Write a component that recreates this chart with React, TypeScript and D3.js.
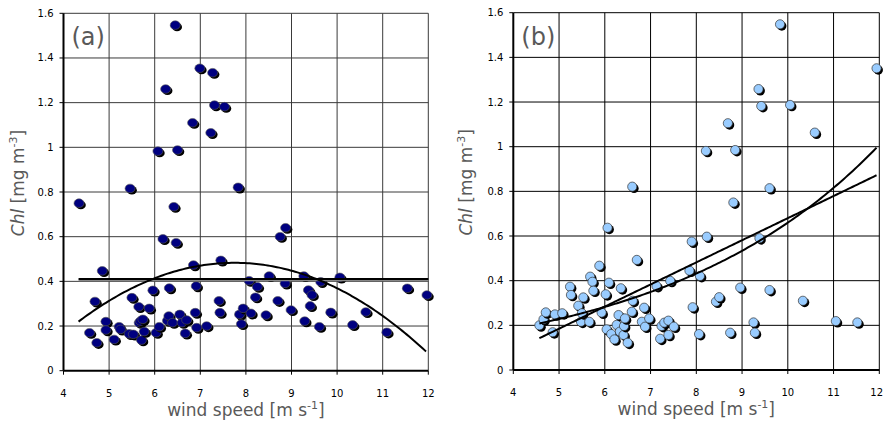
import React from 'react';
import * as d3 from 'd3';

const xTickValues = [4, 5, 6, 7, 8, 9, 10, 11, 12];
const xTickLabels = ['4', '5', '6', '7', '8', '9', '10', '11', '12'];
const yTickValues = [0, 0.2, 0.4, 0.6, 0.8, 1, 1.2, 1.4, 1.6];
const yTickLabels = ['0', '0.2', '0.4', '0.6', '0.8', '1', '1.2', '1.4', '1.6'];

const windA = [4.34, 4.57, 4.69, 4.73, 4.85, 4.93, 4.93, 5.11, 5.22, 5.25, 5.44, 5.46, 5.5, 5.53, 5.65, 5.66, 5.69, 5.71, 5.74, 5.77, 5.88, 5.96, 6.03, 6.07, 6.1, 6.18, 6.24, 6.28, 6.31, 6.32, 6.39, 6.42, 6.45, 6.47, 6.5, 6.55, 6.6, 6.67, 6.7, 6.83, 6.85, 6.89, 6.91, 6.92, 6.99, 7.14, 7.23, 7.27, 7.31, 7.41, 7.43, 7.45, 7.53, 7.83, 7.86, 7.9, 7.94, 8.07, 8.11, 8.21, 8.25, 8.44, 8.51, 8.7, 8.75, 8.86, 8.87, 8.99, 9.27, 9.29, 9.37, 9.41, 9.45, 9.61, 9.64, 9.86, 10.06, 10.34, 10.63, 11.09, 11.54, 11.97];
const chlA = [0.75, 0.17, 0.31, 0.125, 0.447, 0.22, 0.182, 0.14, 0.197, 0.185, 0.165, 0.816, 0.327, 0.163, 0.286, 0.215, 0.222, 0.137, 0.23, 0.175, 0.279, 0.36, 0.17, 0.983, 0.197, 0.59, 1.261, 0.224, 0.245, 0.37, 0.215, 0.734, 1.547, 0.573, 0.988, 0.252, 0.215, 0.167, 0.227, 1.11, 0.473, 0.26, 0.379, 0.193, 1.354, 0.2, 1.065, 1.334, 1.189, 0.313, 0.26, 0.494, 1.182, 0.821, 0.252, 0.209, 0.279, 0.403, 0.257, 0.329, 0.376, 0.249, 0.424, 0.313, 0.6, 0.391, 0.64, 0.272, 0.424, 0.222, 0.361, 0.29, 0.339, 0.197, 0.398, 0.261, 0.418, 0.205, 0.263, 0.172, 0.369, 0.339];

const windB = [4.57, 4.66, 4.71, 4.86, 4.91, 5.07, 5.24, 5.26, 5.42, 5.48, 5.5, 5.53, 5.66, 5.68, 5.73, 5.75, 5.88, 5.93, 6.02, 6.04, 6.06, 6.09, 6.14, 6.21, 6.26, 6.3, 6.33, 6.35, 6.41, 6.42, 6.44, 6.5, 6.59, 6.6, 6.61, 6.7, 6.81, 6.86, 6.88, 6.97, 7.13, 7.21, 7.24, 7.3, 7.39, 7.39, 7.43, 7.51, 7.85, 7.9, 7.92, 8.06, 8.08, 8.21, 8.23, 8.43, 8.5, 8.69, 8.74, 8.81, 8.85, 8.96, 9.25, 9.28, 9.36, 9.38, 9.42, 9.6, 9.6, 9.83, 10.05, 10.33, 10.59, 11.05, 11.52, 11.94];
const chlB = [0.2, 0.227, 0.258, 0.169, 0.249, 0.254, 0.373, 0.336, 0.288, 0.216, 0.254, 0.325, 0.216, 0.418, 0.395, 0.355, 0.467, 0.257, 0.339, 0.182, 0.637, 0.391, 0.161, 0.137, 0.202, 0.246, 0.172, 0.366, 0.157, 0.197, 0.231, 0.122, 0.261, 0.821, 0.31, 0.493, 0.216, 0.279, 0.194, 0.231, 0.376, 0.14, 0.197, 0.212, 0.157, 0.221, 0.399, 0.194, 0.445, 0.575, 0.281, 0.161, 0.421, 0.981, 0.597, 0.306, 0.326, 1.105, 0.167, 0.75, 0.985, 0.369, 0.213, 0.167, 1.258, 0.59, 1.182, 0.358, 0.814, 1.548, 1.187, 0.31, 1.063, 0.219, 0.213, 1.351];

// Trend lines (fitted coefficients)
const meanA = 0.411;
const meanAExtent = [4.33, 12];
const quadA = { a: -0.0225, vx: 7.75, vy: 0.483 };
const quadAExtent = [4.33, 11.95];
const linB = { slope: 0.099, intercept: -0.31 };
const expB = { a: 0.0792, b: 0.212 };
const trendBExtent = [4.57, 11.94];

type PanelProps = {
  left: number; right: number; top: number; bottom: number;
  wind: number[]; chl: number[]; variant: 'a' | 'b'; tag: string; yLabelX: number; maxX: number;
};

function Panel({ left, right, top, bottom, wind, chl, variant, tag, yLabelX, maxX }: PanelProps) {
  const x = d3.scaleLinear().domain([4, 12]).range([left, right]);
  const y = d3.scaleLinear().domain([0, 1.6]).range([bottom, top]);
  const gridColor = variant === 'a' ? '#3a3a3a' : '#000';
  const line = d3.line<[number, number]>().x(d => x(d[0])).y(d => y(d[1]));
  const sample = (ext: number[], f: (v: number) => number) => {
    const pts: [number, number][] = d3.range(ext[0], ext[1], 0.05).map(v => [v, f(v)] as [number, number]);
    pts.push([ext[1], f(ext[1])]);
    return pts;
  };
  const tickFont = { fontFamily: 'DejaVu Sans, sans-serif', fontSize: 10, fill: '#000' };
  const titleFont = { fontFamily: 'DejaVu Sans, sans-serif', fontSize: 17, fill: '#595959' };
  const cy = (top + bottom) / 2 - 9;
  return (
    <g>
      {xTickValues.slice(1).map(v => (
        <line key={'gx' + v} x1={x(v)} x2={x(v)} y1={top} y2={bottom} stroke={gridColor} strokeWidth={1} />
      ))}
      {yTickValues.slice(1).map(v => (
        <line key={'gy' + v} x1={left} x2={right} y1={y(v)} y2={y(v)} stroke={gridColor} strokeWidth={1} />
      ))}
      <line x1={left} x2={left} y1={top} y2={bottom} stroke="#000" strokeWidth={2} />
      <line x1={left} x2={right} y1={bottom} y2={bottom} stroke="#000" strokeWidth={2} />
      {yTickValues.map(v => (
        <line key={'ty' + v} x1={left - 4} x2={left} y1={y(v)} y2={y(v)} stroke="#000" strokeWidth={1} />
      ))}
      {xTickValues.map(v => (
        <line key={'tx' + v} x1={x(v)} x2={x(v)} y1={bottom} y2={bottom + 4} stroke="#000" strokeWidth={1} />
      ))}
      {yTickValues.map((v, i) => (
        <text key={'ly' + v} x={left - 10} y={y(v) + 3.5} textAnchor="end" style={tickFont}>{yTickLabels[i]}</text>
      ))}
      {xTickValues.map((v, i) => {
        const px = x(v);
        const overflow = px + 7 > maxX;
        return (
          <text key={'lx' + v} x={overflow ? maxX : px} y={bottom + 26} textAnchor={overflow ? 'end' : 'middle'} style={tickFont}>{xTickLabels[i]}</text>
        );
      })}
      {wind.map((w, i) => (
        <g key={'m' + i}>
          {variant === 'a' ? (
            <>
              <ellipse cx={x(w) + 1.8} cy={y(chl[i]) + 1.8} rx={5} ry={4.3} fill="#000" />
              <ellipse cx={x(w)} cy={y(chl[i])} rx={5} ry={4.3} fill="#000080" stroke="#555" strokeWidth={0.6} />
            </>
          ) : (
            <>
              <circle cx={x(w) + 1.8} cy={y(chl[i]) + 1.8} r={4.6} fill="#000" />
              <circle cx={x(w)} cy={y(chl[i])} r={4.6} fill="#99CCFF" stroke="#333" strokeWidth={0.7} />
            </>
          )}
        </g>
      ))}
      {variant === 'a' ? (
        <>
          <line x1={x(meanAExtent[0])} x2={x(meanAExtent[1])} y1={y(meanA) + 1.5} y2={y(meanA) + 1.5} stroke="#888" strokeWidth={1.5} />
          <line x1={x(meanAExtent[0])} x2={x(meanAExtent[1])} y1={y(meanA)} y2={y(meanA)} stroke="#000" strokeWidth={2} />
          <path d={line(sample(quadAExtent, v => quadA.a * (v - quadA.vx) ** 2 + quadA.vy)) || ''} fill="none" stroke="#000" strokeWidth={2} />
        </>
      ) : (
        <>
          <path d={line(sample(trendBExtent, v => linB.slope * v + linB.intercept)) || ''} fill="none" stroke="#000" strokeWidth={2} />
          <path d={line(sample(trendBExtent, v => expB.a * Math.exp(expB.b * v))) || ''} fill="none" stroke="#000" strokeWidth={2} />
        </>
      )}
      <text x={left + 8} y={top + 32} style={{ fontFamily: 'DejaVu Sans, sans-serif', fontSize: 24, fill: '#595959' }}>{tag}</text>
      <text x={(left + right) / 2} y={bottom + 45} textAnchor="middle" style={titleFont}>
        wind speed [m s<tspan dy={-7} fontSize={11}>-1</tspan><tspan dy={7}>]</tspan>
      </text>
      <text transform={`translate(${yLabelX},${cy}) rotate(-90)`} textAnchor="middle" style={titleFont}>
        <tspan fontStyle="italic">Chl</tspan> [mg m<tspan dy={-7} fontSize={11}>-3</tspan><tspan dy={7}>]</tspan>
      </text>
    </g>
  );
}

export default function App() {
  return (
    <svg width={884} height={423} style={{ position: 'absolute', left: 0, top: 0, background: '#fff' }}>
      <rect width={884} height={423} fill="#fff" />
      <Panel left={63.5} right={428.3} top={13.3} bottom={370.7} wind={windA} chl={chlA} variant="a" tag="(a)" yLabelX={24} maxX={884} />
      <Panel left={513.3} right={879.3} top={12.7} bottom={370} wind={windB} chl={chlB} variant="b" tag="(b)" yLabelX={472} maxX={883} />
    </svg>
  );
}
